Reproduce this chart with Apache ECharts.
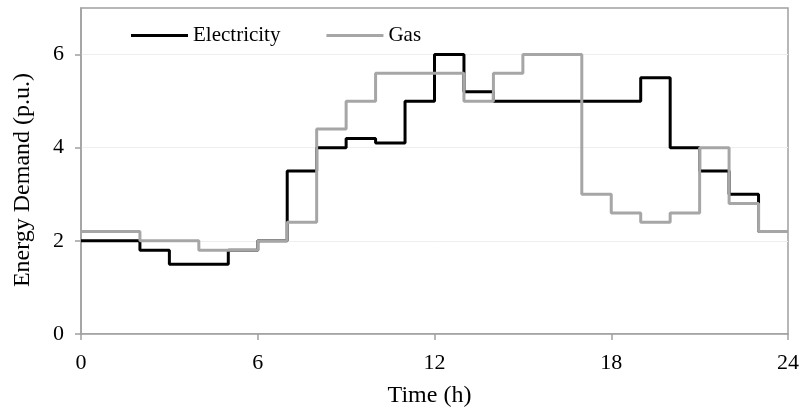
<!DOCTYPE html>
<html>
<head>
<meta charset="utf-8">
<script src="https://cdn.jsdelivr.net/npm/echarts@6/dist/echarts.min.js"></script>
<style>
  html, body { margin: 0; padding: 0; background: #fff; }
  #chart { width: 802px; height: 407px; }
</style>
</head>
<body>
<div id="chart"></div>
<script>
// hourly step values, value i holds from hour i to hour i+1
const hours = [0, 1, 2, 3, 4, 5, 6, 7, 8, 9, 10, 11, 12, 13, 14, 15, 16, 17, 18, 19, 20, 21, 22, 23, 24];
const electricity = [2.0, 2.0, 1.8, 1.5, 1.5, 1.8, 2.0, 3.5, 4.0, 4.2, 4.1, 5.0, 6.0, 5.2, 5.0, 5.0, 5.0, 5.0, 5.0, 5.5, 4.0, 3.5, 3.0, 2.2, 2.2];
const gas = [2.2, 2.2, 2.0, 2.0, 1.8, 1.8, 2.0, 2.4, 4.4, 5.0, 5.6, 5.6, 5.6, 5.0, 5.6, 6.0, 6.0, 3.0, 2.6, 2.4, 2.6, 4.0, 2.8, 2.2, 2.2];
const yTicks = [0, 2, 4, 6];

const font = 'Liberation Serif';
const axisGray = '#a0a0a0';

const chart = echarts.init(document.getElementById('chart'), null, { renderer: 'canvas' });

chart.setOption({
  animation: false,
  textStyle: { fontFamily: font },
  grid: {
    left: 81, right: 14, top: 8, bottom: 73,
    outerBoundsMode: 'none',
    show: true, borderColor: axisGray, borderWidth: 1.5
  },
  legend: {
    left: 126, top: 20,
    itemWidth: 57, itemHeight: 3, itemGap: 46,
    icon: 'rect',
    textStyle: { fontFamily: font, fontSize: 21, color: '#000' },
    data: ['Electricity', 'Gas']
  },
  xAxis: {
    type: 'value', min: 0, max: 24, interval: 6,
    name: 'Time (h)', nameLocation: 'middle', nameGap: 50,
    nameTextStyle: { fontFamily: font, fontSize: 24, color: '#000', padding: [0, 10, 0, 0] },
    axisLine: { lineStyle: { color: axisGray, width: 1.5 } },
    axisTick: { show: true, length: 6, lineStyle: { color: axisGray, width: 1.5 } },
    axisLabel: { fontFamily: font, fontSize: 22, color: '#000', margin: 18 },
    splitLine: { show: false }
  },
  yAxis: {
    type: 'value', min: 0, max: 7, interval: 2,
    name: 'Energy Demand (p.u.)', nameLocation: 'middle', nameGap: 46,
    nameTextStyle: { fontFamily: font, fontSize: 24, color: '#000', padding: [0, 18, 0, 0] },
    axisLine: { show: true, lineStyle: { color: axisGray, width: 1.5 } },
    axisTick: { show: true, length: 6, customValues: yTicks, lineStyle: { color: axisGray, width: 1.5 } },
    axisLabel: { fontFamily: font, fontSize: 22, color: '#000', margin: 17, customValues: yTicks },
    splitLine: { show: true, lineStyle: { color: '#eeeeee', width: 1 } }
  },
  series: [
    {
      name: 'Electricity', type: 'line', step: 'end', symbol: 'none',
      lineStyle: { color: '#000', width: 3 }, itemStyle: { color: '#000' },
      data: hours.map((h, i) => [h, electricity[i]])
    },
    {
      name: 'Gas', type: 'line', step: 'end', symbol: 'none',
      lineStyle: { color: '#a6a6a6', width: 3 }, itemStyle: { color: '#a6a6a6' },
      data: hours.map((h, i) => [h, gas[i]])
    }
  ]
});
</script>
</body>
</html>
